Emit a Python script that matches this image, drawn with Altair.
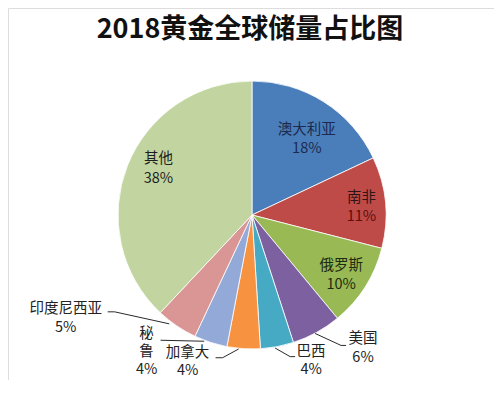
import math
import altair as alt
import pandas as pd

# ---------------- data ----------------
categories = ["澳大利亚", "南非", "俄罗斯", "美国", "巴西", "加拿大", "秘鲁", "印度尼西亚", "其他"]
shares = [18, 11, 10, 6, 4, 4, 4, 5, 38]
slice_colors = ["#4A7EBB", "#BE4B48", "#98B954", "#7D60A0", "#46AAC5",
                "#F69240", "#93A9D8", "#D99694", "#C2D5A0"]
title_text = "2018黄金全球储量占比图"

# ---------------- layout (styling, not data) ----------------
W, H = 486, 372
CX, CY, R = 244, 207, 134
FONT = "Noto Sans CJK SC"
FS = 14.5

# first-line offset of each label block from the slice's mid-edge point, line gap, vertical name
label_layout = {
    "澳大利亚": (-17, 28, 19, False, ["#1C2B4D", "#1C2B4D"]),
    "南非": (-24, -4, 19, False, ["#2D1515", "#5C0D0D"]),
    "俄罗斯": (-24, -21, 19, False, ["#1E2A12", "#1E2A12"]),
    "其他": (31, -7, 20, False, ["#1E1E1E", "#1E1E1E"]),
    "美国": (46.5, 7, 19, False, ["#222222", "#222222"]),
    "巴西": (34, 5, 18, False, ["#222222", "#222222"]),
    "加拿大": (-56, 4, 18, False, ["#222222", "#222222"]),
    "秘鲁": (-64, -8, 18, True, ["#222222", "#222222"]),
    "印度尼西亚": (-111, -17, 19, False, ["#222222", "#222222"]),
}
# leader line points relative to the slice's mid-edge point
leader_layout = {
    "美国": [(-1.5, 1), (24.5, 13), (29.5, 13)],
    "巴西": [(-2, 1.4), (13, 10), (18, 10)],
    "加拿大": [(-5, 0.3), (-21, 9), (-28, 9)],
    "秘鲁": [(-6.4, -1.2), (-50, -2.2)],
    "印度尼西亚": [(-7.4, -2), (-62, -14), (-69, -14)],
}

# ---------------- derived tables ----------------
total = sum(shares)
pie_df = pd.DataFrame({"category": categories, "share": shares, "idx": list(range(len(categories)))})

edge = {}
cum = 0
for c, v in zip(categories, shares):
    mid = (cum + v / 2) / total * 2 * math.pi
    edge[c] = (CX + R * math.sin(mid), CY - R * math.cos(mid))
    cum += v

label_rows = []
for c, v in zip(categories, shares):
    dx, dy, gap, vertical, cols = label_layout[c]
    ex, ey = edge[c]
    lines = list(c) if vertical else [c]
    line_cols = [cols[0]] * len(lines) + [cols[1]]
    lines = lines + [f"{v}%"]
    for i, (t, col) in enumerate(zip(lines, line_cols)):
        label_rows.append({"category": c, "text": t, "x": ex + dx, "y": ey + dy + i * gap, "col": col})
label_df = pd.DataFrame(label_rows)

line_rows = []
for c, pts in leader_layout.items():
    ex, ey = edge[c]
    for k, (px, py) in enumerate(pts):
        line_rows.append({"category": c, "k": k, "x": ex + px, "y": ey + py})
line_df = pd.DataFrame(line_rows)

title_df = pd.DataFrame({"text": [title_text]})

# ---------------- chart ----------------
pie = alt.Chart(pie_df).mark_arc(radius=R, stroke="white", strokeWidth=0.8).encode(
    theta=alt.Theta("share:Q", stack=True),
    order=alt.Order("idx:Q"),
    color=alt.Color("category:N", scale=alt.Scale(domain=categories, range=slice_colors), legend=None),
    x=alt.value(CX),
    y=alt.value(CY),
)

leaders = alt.Chart(line_df).mark_line(color="#2A2A2A", strokeWidth=1).encode(
    x=alt.X("x:Q", scale=None),
    y=alt.Y("y:Q", scale=None),
    detail="category:N",
    order="k:Q",
)

labels = alt.Chart(label_df).mark_text(font=FONT, fontSize=FS, align="center", baseline="middle").encode(
    x=alt.X("x:Q", scale=None),
    y=alt.Y("y:Q", scale=None),
    text="text:N",
    color=alt.Color("col:N", scale=None),
)

title = alt.Chart(title_df).mark_text(
    font=FONT, fontSize=27, fontWeight="bold", align="center", baseline="middle", color="#111111"
).encode(x=alt.value(242), y=alt.value(22), text="text:N")

chart = alt.layer(pie, leaders, labels, title).properties(
    width=W, height=H, padding=0,
    autosize=alt.AutoSizeParams(type="fit", contains="padding"),
).configure_view(stroke=None).configure(background="white")

chart.save("out.html", embed_options={"renderer": "svg", "actions": False})
